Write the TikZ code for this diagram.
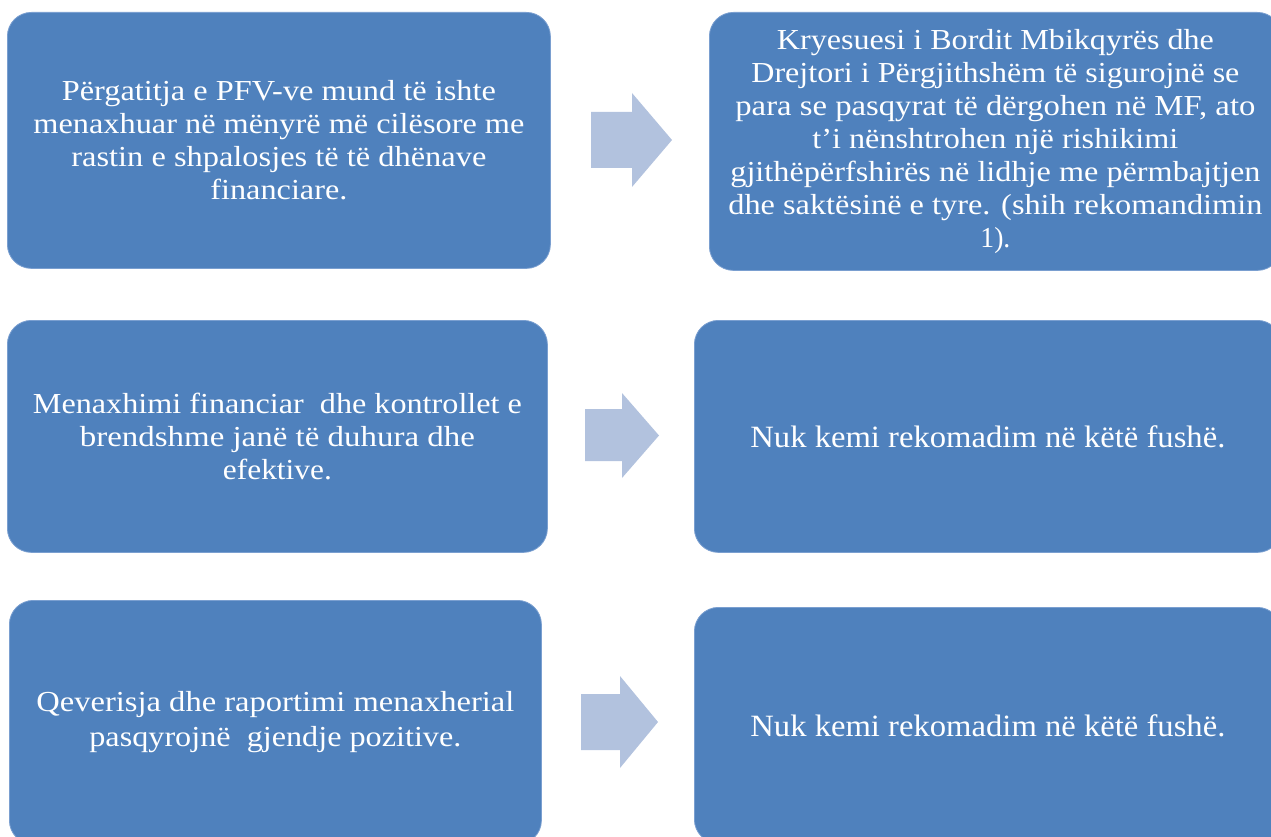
\documentclass[tikz,border=0pt]{standalone}
\usepackage{fontspec}
\setmainfont{Liberation Serif}
\usepackage{graphicx}
\definecolor{boxblue}{HTML}{4F81BD}
\definecolor{boxedge}{HTML}{7A9FD0}
\definecolor{arrowblue}{HTML}{B2C2DE}
\newcommand{\fitln}[2]{\resizebox{#1pt}{\height}{#2}}
\begin{document}
\begin{tikzpicture}[x=1pt,y=-1pt,
  box/.style={fill=boxblue, draw=boxedge, line width=0.8pt, rounded corners=24pt,
    anchor=north west, inner sep=0pt, text=white, align=center,
    font=\fontsize{29}{33}\selectfont},
  bigtext/.style={font=\fontsize{31}{33}\selectfont},
  blockarrow/.style={fill=arrowblue, draw=none}]
\useasboundingbox (0,0) rectangle (1271,837);
\clip (0,0) rectangle (1271,837);

\node[box, minimum width=543pt, minimum height=256pt] (b1) at (7,12)
  {\fitln{434}{Përgatitja e PFV-ve mund të ishte}\\
   \fitln{491}{menaxhuar në mënyrë më cilësore me}\\
   \fitln{415}{rastin e shpalosjes të të dhënave}\\
   \fitln{137}{financiare.}};

\node[box, minimum width=572pt, minimum height=258pt] (b2) at (709,12)
  {\fitln{437}{Kryesuesi i Bordit Mbikqyrës dhe}\\
   \fitln{488}{Drejtori i Përgjithshëm të sigurojnë se}\\
   \fitln{520}{para se pasqyrat të dërgohen në MF, ato}\\
   \fitln{366}{t’i nënshtrohen një rishikimi}\\
   \fitln{530}{gjithëpërfshirës në lidhje me përmbajtjen}\\
   \fitln{534}{dhe saktësinë e tyre. (shih rekomandimin}\\
   \fitln{30}{1).}};

\node[box, minimum width=540pt, minimum height=232pt] (b3) at (7,320)
  {\fitln{489}{Menaxhimi financiar\ \ dhe kontrollet e}\\
   \fitln{395}{brendshme janë të duhura dhe}\\
   \fitln{109}{efektive.}};

\node[box, bigtext, minimum width=587pt, minimum height=232pt] (b4) at (694,320)
  {\fitln{475}{Nuk kemi rekomadim në këtë fushë.}};

\node[box, minimum width=532pt, minimum height=244pt,
      font=\fontsize{29}{35}\selectfont] (b5) at (9,600)
  {\fitln{478}{Qeverisja dhe raportimi menaxherial}\\
   \fitln{372}{pasqyrojnë\ \ gjendje pozitive.}};

\node[box, bigtext, minimum width=587pt, minimum height=236pt] (b6) at (694,607)
  {\fitln{475}{Nuk kemi rekomadim në këtë fushë.}};

% block arrows between the columns
\fill[blockarrow] (591,112) -- (632,112) -- (632,93) -- (672,140)
  -- (632,187) -- (632,168) -- (591,168) -- cycle;
\fill[blockarrow] (585,409) -- (622,409) -- (622,393) -- (659,435.5)
  -- (622,478) -- (622,461) -- (585,461) -- cycle;
\fill[blockarrow] (581,694) -- (620,694) -- (620,676) -- (658,722)
  -- (620,768) -- (620,750) -- (581,750) -- cycle;
\end{tikzpicture}
\end{document}
